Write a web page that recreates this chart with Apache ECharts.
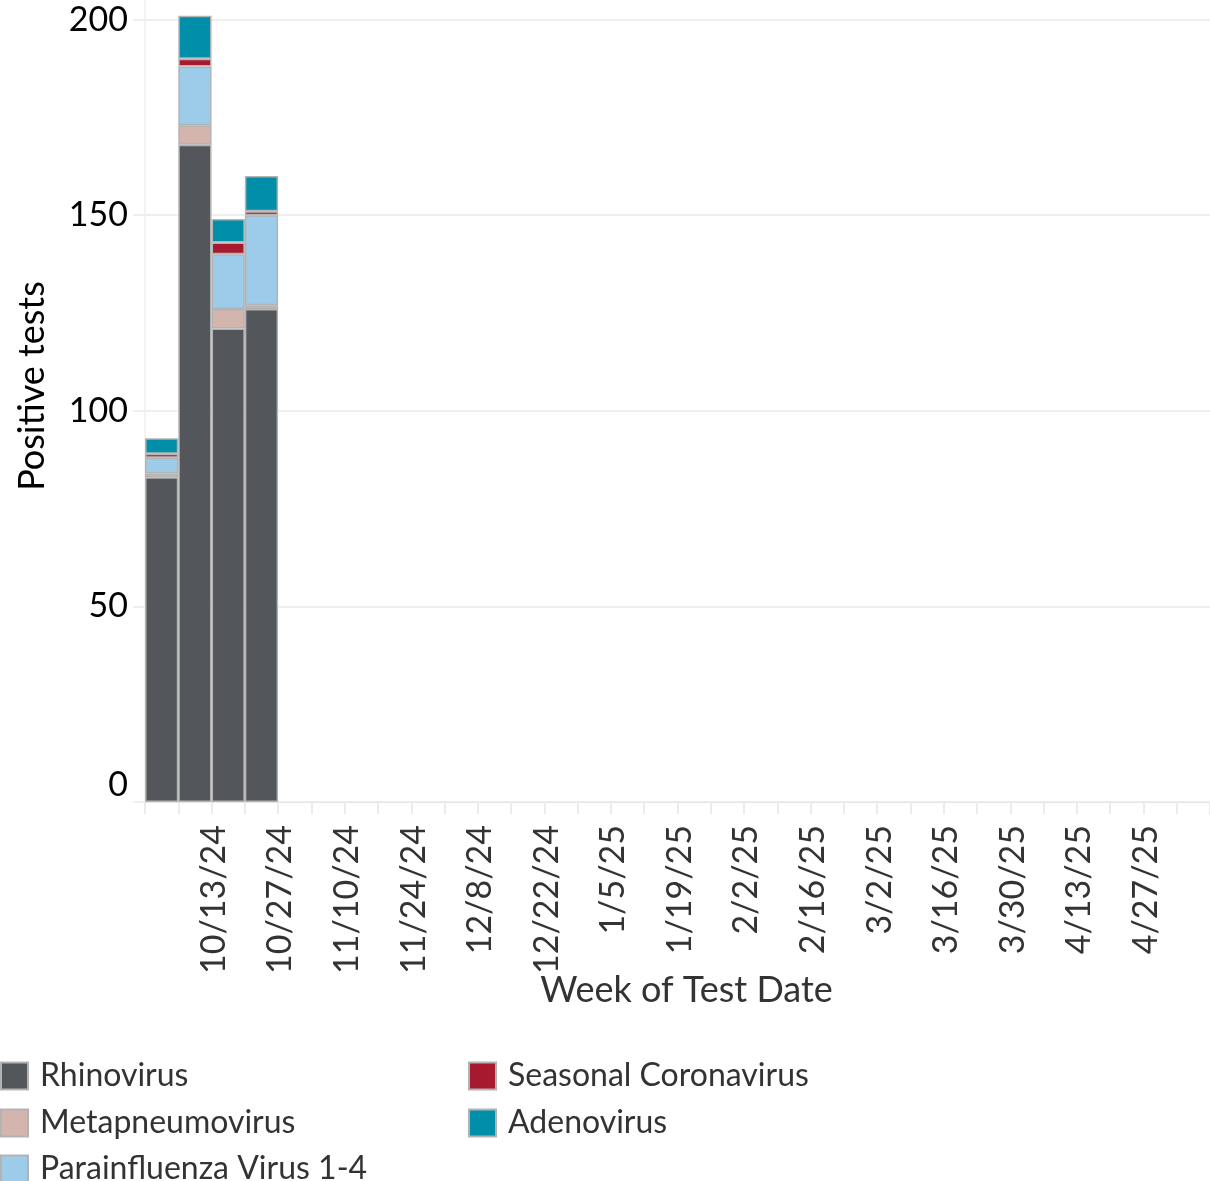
<!DOCTYPE html>
<html><head><meta charset="utf-8">
<script src="https://cdn.jsdelivr.net/npm/echarts@6/dist/echarts.min.js"></script>
<style>html,body{margin:0;padding:0;background:#fff}#c{width:1210px;height:1181px}</style>
</head><body><div id="c"></div>
<script>
const weeks = ['10/6/24','10/13/24','10/20/24','10/27/24','11/3/24','11/10/24','11/17/24','11/24/24','12/1/24','12/8/24','12/15/24','12/22/24','12/29/24','1/5/25','1/12/25','1/19/25','1/26/25','2/2/25','2/9/25','2/16/25','2/23/25','3/2/25','3/9/25','3/16/25','3/23/25','3/30/25','4/6/25','4/13/25','4/20/25','4/27/25','5/4/25','5/11/25'];
const rhinovirus = [83, 168, 121, 126];
const metapneumovirus = [1, 5, 5, 1];
const parainfluenza = [4, 15, 14, 23];
const seasonalCoronavirus = [1, 2, 3, 1];
const adenovirus = [4, 11, 6, 9];
const yTicks = [0, 50, 100, 150, 200];

const FONT = 'Lato';
const names = ['Rhinovirus','Metapneumovirus','Parainfluenza Virus 1-4','Seasonal Coronavirus','Adenovirus'];
const colors = ['#53565a','#d4b5ad','#9dcbea','#a6192e','#008ea9'];
const vals = [rhinovirus, metapneumovirus, parainfluenza, seasonalCoronavirus, adenovirus];
const legendPos = [[0,1060],[0,1107],[0,1153],[468,1060],[468,1107]];

const chart = echarts.init(document.getElementById('c'), null, {renderer:'canvas'});
chart.setOption({
  animation: false,
  color: colors,
  grid: {left: 145, top: 0, bottom: 379, right: -12, containLabel: false},
  legend: names.map(function(n, k){
    return {
      left: legendPos[k][0], top: legendPos[k][1], padding: 0,
      orient: 'vertical', itemWidth: 27, itemHeight: 27,
      icon: 'rect', selectedMode: false, data: [n],
      itemStyle: {borderColor: '#b3b3b3', borderWidth: 2},
      textStyle: {fontFamily: FONT, fontSize: 32, color: '#333', lineHeight: 27, padding: [0,0,0,7]}
    };
  }),
  xAxis: {
    type: 'category', data: weeks, boundaryGap: true,
    name: 'Week of Test Date', nameLocation: 'middle', nameGap: 170, nameMoveOverlap: false,
    nameTextStyle: {fontFamily: FONT, fontSize: 36, color: '#333', padding: [0,0,0,18]},
    axisLine: {show: true, lineStyle: {color: '#e2e2e2', type: 'dashed', width: 1}},
    axisTick: {show: true, interval: 0, length: 12, lineStyle: {color: '#ebebeb', width: 2}},
    axisLabel: {
      rotate: 90, margin: 23, fontFamily: FONT, fontSize: 34, color: '#333',
      interval: function(i){ return i % 2 === 1 && i < 31; },
      verticalAlign: 'top', lineHeight: 38
    },
    splitLine: {show: false}
  },
  yAxis: {
    type: 'value', min: 0, max: 205, interval: 50,
    name: 'Positive tests', nameLocation: 'middle', nameGap: 95, nameMoveOverlap: false,
    nameTextStyle: {fontFamily: FONT, fontSize: 36, color: '#000', padding: [0,0,0,30]},
    axisLine: {show: true, lineStyle: {color: '#efefef', width: 1.5}},
    axisTick: {show: true, length: 12, lineStyle: {color: '#efefef', width: 2}},
    axisLabel: {
      margin: 17, fontFamily: FONT, fontSize: 34, color: '#000',
      showMaxLabel: false, verticalAlignMinLabel: 'bottom',
      formatter: function(v){ return yTicks.indexOf(v) >= 0 ? String(v) : ''; }
    },
    splitLine: {show: true, showMaxLine: false, lineStyle: {color: '#efefef', width: 2}}
  },
  series: names.map(function(n, k){
    return {
      name: n, type: 'bar', stack: 'all', barCategoryGap: 0, barGap: 0,
      data: vals[k],
      itemStyle: {color: colors[k], borderColor: '#b3b3b3', borderWidth: 1.5}
    };
  })
});
</script></body></html>
